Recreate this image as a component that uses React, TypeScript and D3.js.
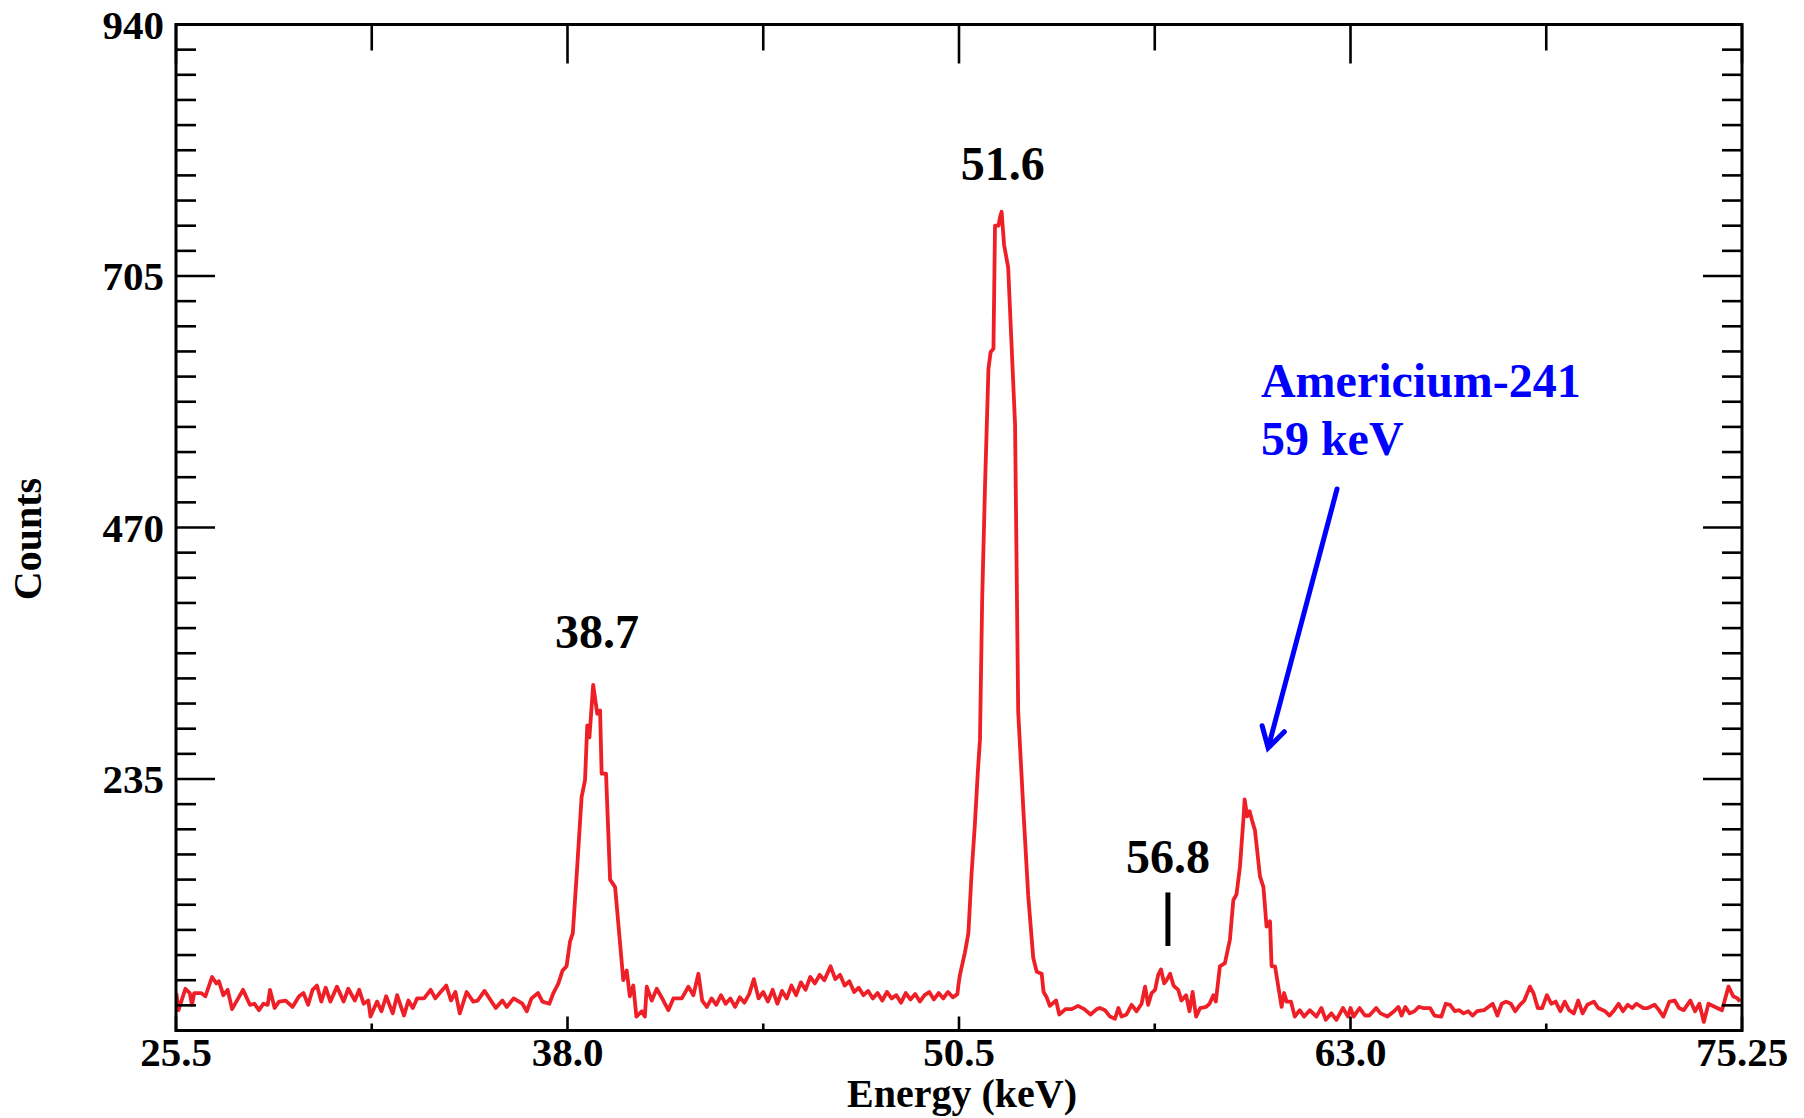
import { useEffect, useRef } from 'react';
import * as d3 from 'd3';

// [energy keV, counts], split by region
const lowBaseline: [number, number][] = [
  [25.51, 35], [25.58, 19], [25.8, 39], [25.94, 35], [26.01, 24], [26.08, 35], [26.3, 35],
  [26.44, 32], [26.65, 50], [26.79, 44], [26.87, 46], [27.01, 33], [27.15, 38], [27.29, 20],
  [27.64, 38], [27.86, 24], [28.0, 25], [28.15, 19], [28.29, 25], [28.43, 24], [28.5, 38],
  [28.65, 21], [28.79, 27], [29.0, 28], [29.22, 22], [29.43, 32], [29.57, 35], [29.72, 24],
  [29.86, 38], [30.0, 42], [30.14, 27], [30.28, 40], [30.43, 27], [30.64, 41], [30.85, 27],
  [31.0, 39], [31.21, 28], [31.35, 38], [31.49, 25], [31.64, 28], [31.71, 13], [31.92, 27],
  [32.06, 18], [32.21, 32], [32.42, 16], [32.56, 33], [32.78, 14], [32.92, 28], [33.06, 21],
  [33.2, 30], [33.42, 30], [33.63, 38], [33.78, 30], [33.92, 35], [34.13, 42], [34.28, 28],
  [34.42, 36], [34.56, 16], [34.78, 36], [34.99, 27], [35.13, 28], [35.35, 37], [35.71, 21],
  [35.92, 28], [36.06, 22], [36.28, 30], [36.56, 25], [36.7, 18], [36.85, 30], [37.06, 35],
  [37.2, 27], [37.42, 25],
];

const peak387: [number, number][] = [
  [37.55, 35], [37.71, 44], [37.84, 56], [37.97, 60], [38.08, 83], [38.17, 91], [38.31, 153],
  [38.45, 218], [38.56, 234], [38.63, 285], [38.7, 274], [38.82, 323], [38.95, 296], [39.04, 299],
  [39.09, 240], [39.23, 240], [39.36, 141], [39.52, 134], [39.68, 81], [39.78, 47], [39.89, 56],
  [39.99, 32], [40.1, 42], [40.2, 13], [40.37, 18], [40.47, 13], [40.53, 41], [40.69, 28],
  [40.85, 39], [41.06, 28], [41.22, 19], [41.38, 30], [41.65, 30], [41.86, 41], [42.02, 33],
  [42.18, 53],
];

const midBaseline: [number, number][] = [
  [42.3, 28], [42.45, 22], [42.6, 30], [42.75, 24], [42.9, 33], [43.05, 25], [43.2, 30],
  [43.35, 22], [43.5, 31], [43.65, 26], [43.8, 34], [43.95, 48], [44.1, 30], [44.25, 36],
  [44.4, 27], [44.55, 38], [44.7, 25], [44.85, 37], [45.0, 30], [45.15, 42], [45.3, 33],
  [45.45, 45], [45.6, 38], [45.75, 50], [45.9, 44], [46.05, 52], [46.2, 47], [46.4, 60],
  [46.55, 48], [46.7, 52], [46.85, 42], [47.0, 46], [47.15, 36], [47.3, 40], [47.45, 33],
  [47.6, 37], [47.75, 30], [47.9, 35], [48.05, 28], [48.2, 36], [48.35, 30], [48.5, 33],
  [48.65, 26], [48.8, 35], [48.95, 29], [49.1, 34], [49.25, 27], [49.4, 33], [49.55, 36],
  [49.7, 29], [49.85, 35], [50.0, 30], [50.15, 36], [50.3, 31], [50.45, 34],
];

const peak516: [number, number][] = [
  [50.48, 42], [50.53, 52], [50.69, 73], [50.8, 91], [50.9, 146], [51.01, 194], [51.1, 241],
  [51.17, 272], [51.24, 403], [51.33, 508], [51.44, 618], [51.51, 634], [51.6, 637], [51.65, 752],
  [51.76, 752], [51.81, 760], [51.86, 765], [51.94, 734], [52.07, 713], [52.29, 566], [52.39, 298],
  [52.55, 209], [52.71, 126], [52.87, 68], [52.98, 55], [53.14, 53], [53.2, 36], [53.3, 31],
  [53.4, 23], [53.6, 28], [53.7, 15], [53.9, 20], [54.1, 20], [54.3, 23], [54.5, 20],
  [54.7, 15], [54.9, 20],
];

const peaks568and59: [number, number][] = [
  [55.0, 21], [55.16, 19], [55.32, 13], [55.48, 11], [55.59, 21], [55.69, 13], [55.85, 15],
  [56.01, 24], [56.17, 18], [56.33, 25], [56.44, 41], [56.54, 24], [56.65, 35], [56.76, 38],
  [56.86, 52], [56.95, 57], [57.05, 44], [57.13, 47], [57.24, 53], [57.35, 42], [57.5, 38],
  [57.6, 28], [57.75, 33], [57.86, 18], [57.96, 36], [58.07, 13], [58.2, 21], [58.39, 22],
  [58.5, 25], [58.62, 33], [58.7, 27], [58.83, 60], [58.99, 63], [59.15, 85], [59.26, 122],
  [59.36, 127], [59.47, 153], [59.58, 197], [59.62, 216], [59.7, 200], [59.78, 205], [59.85, 197],
  [59.95, 187], [60.11, 144], [60.22, 134], [60.32, 97], [60.43, 102], [60.48, 60], [60.59, 60],
  [60.8, 22], [60.88, 35], [60.96, 27], [61.1, 27], [61.22, 13], [61.38, 19], [61.52, 13],
  [61.7, 19], [61.91, 13], [62.07, 21], [62.21, 10], [62.39, 16], [62.55, 10], [62.76, 21],
  [62.92, 13],
];

const highBaseline: [number, number][] = [
  [63.0, 21], [63.1, 13], [63.29, 21], [63.46, 14], [63.6, 14], [63.82, 21], [63.96, 16],
  [64.18, 13], [64.39, 18], [64.53, 22], [64.63, 14], [64.75, 22], [64.89, 16], [65.04, 18],
  [65.18, 22], [65.32, 21], [65.54, 21], [65.68, 14], [65.9, 13], [66.04, 25], [66.18, 24],
  [66.33, 18], [66.47, 19], [66.61, 16], [66.76, 18], [66.9, 14], [67.04, 18], [67.26, 19],
  [67.4, 22], [67.54, 25], [67.69, 14], [67.83, 25], [67.97, 27], [68.12, 25], [68.26, 18],
  [68.41, 24], [68.55, 28], [68.73, 41], [68.84, 35], [68.98, 21], [69.12, 21], [69.27, 33],
  [69.41, 25], [69.55, 27], [69.7, 18], [69.84, 27], [69.98, 19], [70.13, 16], [70.27, 28],
  [70.41, 16], [70.56, 24], [70.77, 27], [70.91, 21], [71.13, 18], [71.27, 14], [71.42, 19],
  [71.56, 25], [71.7, 18], [71.85, 24], [71.99, 21], [72.13, 25], [72.35, 21], [72.49, 21],
  [72.71, 24], [72.85, 19], [72.99, 13], [73.18, 27], [73.35, 28], [73.49, 21], [73.64, 19],
  [73.85, 28], [74.0, 18], [74.14, 25], [74.28, 8], [74.43, 25], [74.64, 22], [74.86, 19],
  [75.07, 41], [75.22, 32], [75.36, 30], [75.43, 27],
];

const xMajorTicks = [25.5, 38.0, 50.5, 63.0, 75.5];
const xTickLabels = ['25.5', '38.0', '50.5', '63.0', '75.25'];
const xMinorTicks = [31.75, 44.25, 56.75, 69.25];
const yMajorTicks = [0, 235, 470, 705, 940];
const yTickLabels = ['', '235', '470', '705', '940'];

// peak annotations: [text, energy, counts at baseline]
const peakLabels: [string, number, number][] = [
  ['38.7', 38.94, 357],
  ['51.6', 51.9, 795],
  ['56.8', 57.17, 147],
];
const marker568: [number, number, number] = [57.17, 129, 79];
const amLabel = ['Americium-241', '59 keV'];
const amLabelPos: [number, number, number] = [60.14, 592, 538];
const amArrow: [number, number, number, number] = [62.57, 506, 60.37, 264];

const W = 1804;
const H = 1118;
const FONT = '"Liberation Serif", "Times New Roman", Times, serif';

export default function App() {
  const ref = useRef<SVGSVGElement>(null);

  useEffect(() => {
    if (!ref.current) return;
    const svg = d3.select(ref.current);
    svg.selectAll('*').remove();

    const x = d3.scaleLinear().domain([25.5, 75.5]).range([176, 1742]);
    const y = d3.scaleLinear().domain([0, 940]).range([1030.5, 24.5]);
    const [x0, x1] = x.range();
    const [y0, y1] = y.range();

    svg.append('rect').attr('width', W).attr('height', H).attr('fill', '#fff');

    svg.append('defs').append('clipPath').attr('id', 'plot')
      .append('rect').attr('x', x0).attr('y', y1).attr('width', x1 - x0).attr('height', y0 - y1);

    const spectrum = [...lowBaseline, ...peak387, ...midBaseline, ...peak516, ...peaks568and59, ...highBaseline];
    const line = d3.line<[number, number]>().x(d => x(d[0])).y(d => y(d[1]));

    svg.append('path')
      .datum(spectrum)
      .attr('clip-path', 'url(#plot)')
      .attr('fill', 'none')
      .attr('stroke', '#ee1f26')
      .attr('stroke-width', 3.8)
      .attr('stroke-linejoin', 'round')
      .attr('d', line);

    // ticks
    const ticks = svg.append('g').attr('stroke', '#000').attr('stroke-width', 2.6);
    const yMinor = d3.range(0, 940.01, 23.5);
    yMinor.forEach(v => {
      const len = yMajorTicks.includes(Math.round(v)) ? 39 : 20;
      ticks.append('line').attr('x1', x0).attr('x2', x0 + len).attr('y1', y(v)).attr('y2', y(v));
      ticks.append('line').attr('x1', x1).attr('x2', x1 - len).attr('y1', y(v)).attr('y2', y(v));
    });
    xMajorTicks.forEach(v => {
      ticks.append('line').attr('x1', x(v)).attr('x2', x(v)).attr('y1', y1).attr('y2', y1 + 39);
      ticks.append('line').attr('x1', x(v)).attr('x2', x(v)).attr('y1', y0).attr('y2', y0 - 14);
    });
    xMinorTicks.forEach(v => {
      ticks.append('line').attr('x1', x(v)).attr('x2', x(v)).attr('y1', y1).attr('y2', y1 + 26);
      ticks.append('line').attr('x1', x(v)).attr('x2', x(v)).attr('y1', y0).attr('y2', y0 - 7);
    });

    // frame
    svg.append('rect')
      .attr('x', x0).attr('y', y1).attr('width', x1 - x0).attr('height', y0 - y1)
      .attr('fill', 'none').attr('stroke', '#000').attr('stroke-width', 3);

    const text = svg.append('g')
      .style('font-family', FONT).style('font-weight', 'bold').attr('fill', '#000');

    xMajorTicks.forEach((v, i) => {
      text.append('text').attr('x', x(v)).attr('y', 1066).attr('text-anchor', 'middle')
        .style('font-size', '41px').text(xTickLabels[i]);
    });
    yMajorTicks.forEach((v, i) => {
      text.append('text').attr('x', 164).attr('y', y(v) + 14).attr('text-anchor', 'end')
        .style('font-size', '41px').text(yTickLabels[i]);
    });

    text.append('text').attr('x', (x0 + x1) / 2 + 3).attr('y', 1107).attr('text-anchor', 'middle')
      .style('font-size', '40px').text('Energy (keV)');
    text.append('text').attr('transform', `translate(41,539) rotate(-90)`).attr('text-anchor', 'middle')
      .style('font-size', '40px').text('Counts');

    peakLabels.forEach(([t, e, c]) => {
      text.append('text').attr('x', x(e)).attr('y', y(c)).attr('text-anchor', 'middle')
        .style('font-size', '48px').text(t);
    });

    svg.append('line')
      .attr('x1', x(marker568[0])).attr('x2', x(marker568[0]))
      .attr('y1', y(marker568[1])).attr('y2', y(marker568[2]))
      .attr('stroke', '#000').attr('stroke-width', 5);

    const blue = '#0000ff';
    amLabel.forEach((t, i) => {
      svg.append('text').attr('x', x(amLabelPos[0])).attr('y', y(amLabelPos[1 + i]))
        .style('font-family', FONT).style('font-weight', 'bold').style('font-size', '48px')
        .attr('fill', blue).text(t);
    });

    // arrow to the 59 keV peak
    const sx = x(amArrow[0]), sy = y(amArrow[1]);
    const tx = x(amArrow[2]), ty = y(amArrow[3]);
    const ang = Math.atan2(sy - ty, sx - tx);
    const head = 23;
    const a1 = ang + Math.PI / 6, a2 = ang - Math.PI / 6;
    const arrowPath = d3.path();
    arrowPath.moveTo(sx, sy);
    arrowPath.lineTo(tx, ty);
    arrowPath.moveTo(tx + head * Math.cos(a1), ty + head * Math.sin(a1));
    arrowPath.lineTo(tx, ty);
    arrowPath.lineTo(tx + head * Math.cos(a2), ty + head * Math.sin(a2));
    svg.append('path').attr('d', arrowPath.toString())
      .attr('fill', 'none').attr('stroke', blue).attr('stroke-width', 5)
      .attr('stroke-linecap', 'round').attr('stroke-linejoin', 'miter');
  }, []);

  return (
    <svg
      ref={ref}
      width={W}
      height={H}
      viewBox={`0 0 ${W} ${H}`}
      style={{ position: 'absolute', left: 0, top: 0, display: 'block' }}
    />
  );
}
